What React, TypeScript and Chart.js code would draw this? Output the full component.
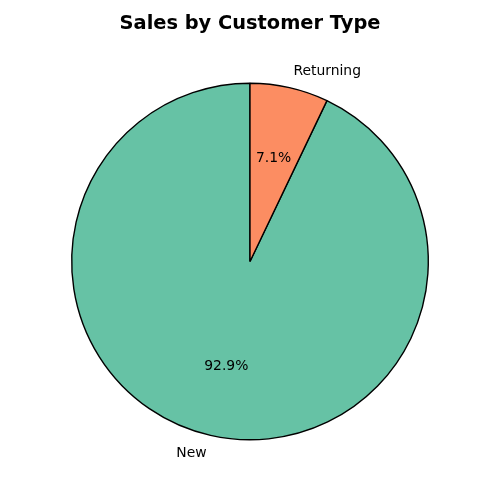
import { useEffect, useRef } from "react";
import { Chart, registerables } from "chart.js";

Chart.register(...registerables);

const categories = ["New", "Returning"];
const values = [92.9, 7.1];
const colors = ["#66c2a5", "#fc8d62"];
const titleText = "Sales by Customer Type";

const labelPlugin = {
  id: "mplLabels",
  afterDraw(chart: any) {
    const ctx = chart.ctx;
    const meta = chart.getDatasetMeta(0);
    const total = values.reduce((a, b) => a + b, 0);
    ctx.save();
    meta.data.forEach((arc: any, i: number) => {
      const { x, y, startAngle, endAngle, outerRadius } = arc.getProps(
        ["x", "y", "startAngle", "endAngle", "outerRadius"],
        true
      );
      const mid = (startAngle + endAngle) / 2;
      const cx = Math.cos(mid);
      const cy = Math.sin(mid);
      ctx.fillStyle = "#000";
      ctx.font = "13.9px 'DejaVu Sans'";
      ctx.textBaseline = "middle";
      const lx = x + cx * outerRadius * 1.1;
      const ly = y + cy * outerRadius * 1.1 + 1;
      ctx.textAlign = cx >= 0 ? "left" : "right";
      ctx.fillText(categories[i], lx, ly);
      const px = x + cx * outerRadius * 0.6;
      const py = y + cy * outerRadius * 0.6 + 1;
      ctx.textAlign = "center";
      ctx.fillText(((values[i] / total) * 100).toFixed(1) + "%", px, py);
    });
    ctx.font = "bold 19.4px 'DejaVu Sans'";
    ctx.textAlign = "center";
    ctx.textBaseline = "middle";
    ctx.fillText(titleText, 250, 24);
    ctx.restore();
  },
};

export default function App() {
  const ref = useRef<HTMLCanvasElement>(null);
  useEffect(() => {
    document.body.style.margin = "0";
    const total = values.reduce((a, b) => a + b, 0);
    const rotation = (values[1] / total) * 360;
    const chart = new Chart(ref.current!, {
      type: "pie",
      data: {
        labels: categories,
        datasets: [
          {
            data: values,
            backgroundColor: colors,
            borderColor: "#000",
            borderWidth: 1.4,
            hoverOffset: 0,
            offset: 0,
            borderAlign: "center",
          },
        ],
      },
      options: {
        responsive: false,
        animation: false,
        rotation: rotation,
        layout: { padding: { left: 71, right: 71, top: 82, bottom: 59 } },
        plugins: {
          legend: { display: false },
          title: { display: false },
          tooltip: { enabled: false },
        },
      },
      plugins: [labelPlugin],
    });
    return () => chart.destroy();
  }, []);
  return (
    <div style={{ width: 500, height: 500, background: "#fff" }}>
      <canvas ref={ref} width={500} height={500} />
    </div>
  );
}
